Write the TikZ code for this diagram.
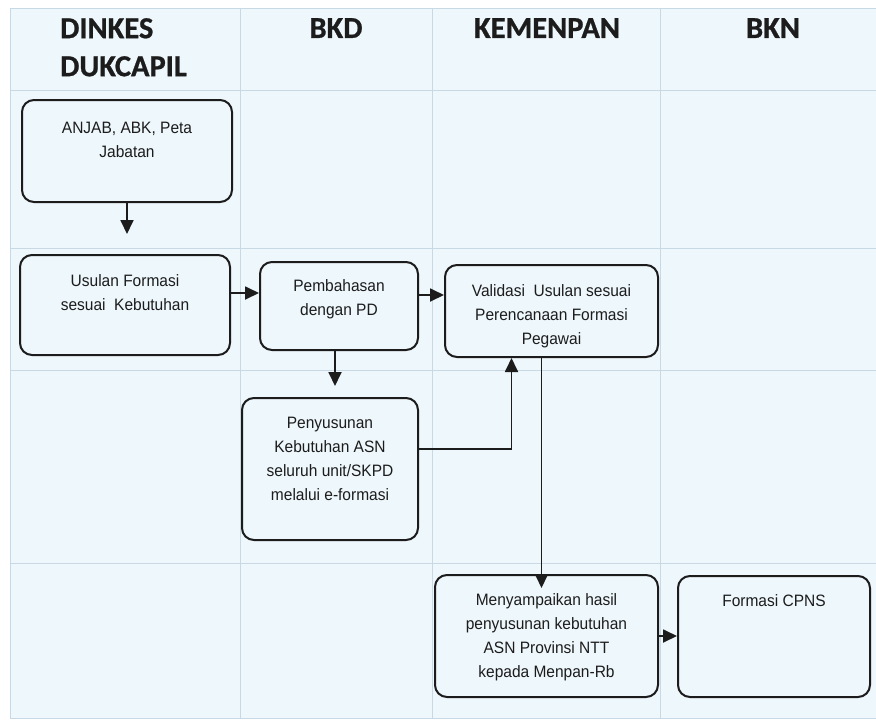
\documentclass[tikz,border=0pt]{standalone}
\usepackage{fontspec}
\setmainfont{Liberation Sans}[FakeStretch=0.94]
\newfontfamily\headfont{Carlito}[BoldFeatures={FakeBold=0.8}]
\usetikzlibrary{positioning,arrows.meta}
\definecolor{lane}{RGB}{238,247,252}
\definecolor{gridline}{RGB}{200,216,228}
\definecolor{ink}{RGB}{28,28,28}

\tikzset{
  proc/.style={draw=ink,line width=2pt,rounded corners=12pt,fill=lane,inner sep=0pt},
  txt/.style={align=center,inner sep=0pt,text=ink,font=\fontsize{16.5}{24}\selectfont},
  head/.style={inner sep=0pt,text=ink,font=\headfont\bfseries\fontsize{30.5}{38}\selectfont},
  flow/.style={draw=ink,line width=1.8pt,-{Triangle[width=13pt,length=14pt]}},
}

\begin{document}
\begin{tikzpicture}[x=1pt,y=-1pt]
\useasboundingbox (0,0) rectangle (876,721);
\fill[white] (0,0) rectangle (876,721);
\fill[lane] (10,8) rectangle (876,718);
% lanes and rows
\foreach \x in {10,240,432,660}
  \draw[gridline,line width=0.6pt] (\x,8) -- (\x,718);
\foreach \y in {8,90,248,370,563,718}
  \draw[gridline,line width=0.6pt] (10,\y) -- (876,\y);

% lane headers
\node[head,anchor=north west,align=left] (dinkes) at (60,18) {DINKES\\DUKCAPIL};
\node[head,anchor=north] (bkd) at (336,18) {BKD};
\node[head,anchor=north] (kemenpan) at (547,18) {KEMENPAN};
\node[head,anchor=north] (bkn) at (773,18) {BKN};

% process boxes
\node[proc,minimum width=210pt,minimum height=102pt] (anjab) at (127,151) {};
\node[proc,minimum width=210pt,minimum height=100pt] (usulan) at (125,305) {};
\node[proc,minimum width=158pt,minimum height=88pt] (pemb) at (339,306) {};
\node[proc,minimum width=213pt,minimum height=92pt] (valid) at (551.5,311) {};
\node[proc,minimum width=176pt,minimum height=142pt] (peny) at (330,469) {};
\node[proc,minimum width=223pt,minimum height=122pt] (menya) at (546.5,636) {};
\node[proc,minimum width=192pt,minimum height=121pt] (formasi) at (774,636.5) {};

% box texts
\node[txt,below=23pt of anjab.north] (anjabT) {ANJAB, ABK, Peta\\Jabatan};
\node[txt,below=20pt of usulan.north] (usulanT) {Usulan Formasi\\sesuai\ \ Kebutuhan};
\node[txt,below=18pt of pemb.north] (pembT) {Pembahasan\\dengan PD};
\node[txt,below=20pt of valid.north] (validT) {Validasi\ \ Usulan sesuai\\Perencanaan Formasi\\Pegawai};
\node[txt,below=20pt of peny.north] (penyT) {Penyusunan\\Kebutuhan ASN\\seluruh unit/SKPD\\melalui e-formasi};
\node[txt,below=19pt of menya.north] (menyaT) {Menyampaikan hasil\\penyusunan kebutuhan\\ASN Provinsi NTT\\kepada Menpan-Rb};
\node[txt,below=19pt of formasi.north] (formasiT) {Formasi CPNS};

% connectors
\coordinate (u1) at ([yshift=12pt]usulan.east);
\coordinate (p1) at ([yshift=11pt]pemb.east);
\coordinate (p2) at ([xshift=-4pt]pemb.south);
\coordinate (s1) at ([yshift=20pt]peny.east);
\coordinate (v1) at ([xshift=-40pt]valid.south);
\coordinate (v2) at ([xshift=-10pt]valid.south);
\draw[flow,shorten >=20pt] (anjab.south) -- (anjab.south |- usulan.north);
\draw[flow] (u1) -- (u1 -| pemb.west);
\draw[flow] (p1) -- (p1 -| valid.west);
\draw[flow,shorten >=11pt] (p2) -- (p2 |- peny.north);
\draw[flow] (s1) -| (v1);
\draw[flow,shorten >=-14pt] (v2) -- (v2 |- menya.north);
\draw[flow] (menya.east) -- (menya.east -| formasi.west);
\end{tikzpicture}
\end{document}
